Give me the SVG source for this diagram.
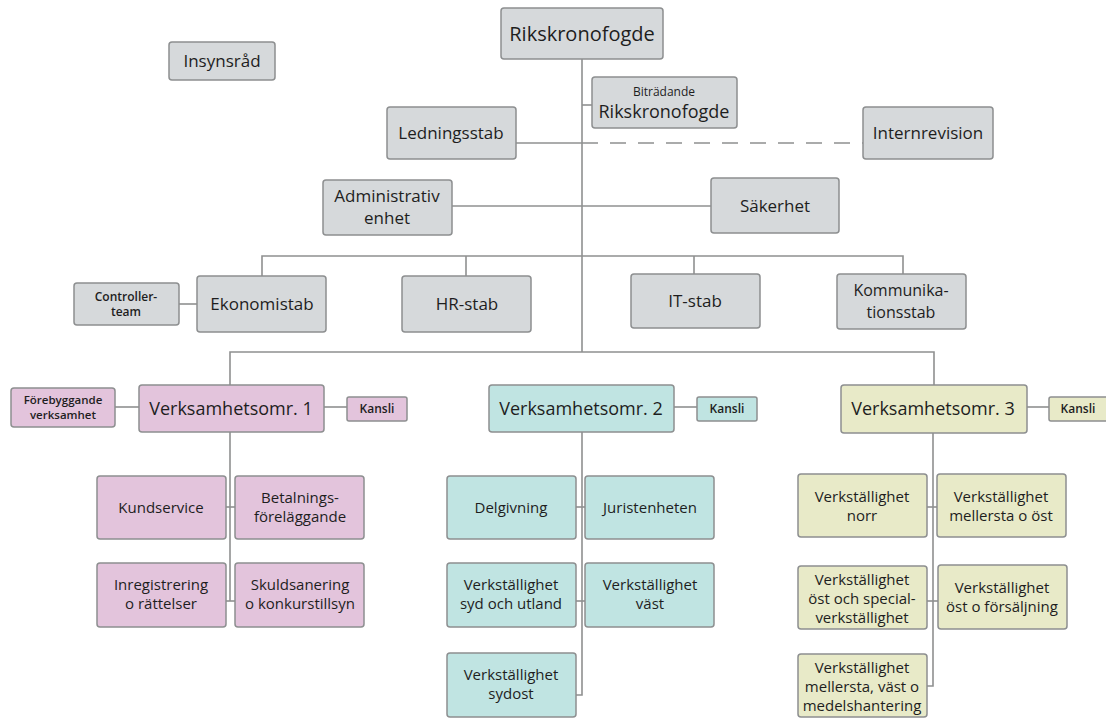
<svg xmlns="http://www.w3.org/2000/svg" width="1106" height="718" viewBox="0 0 1106 718">
<style>
rect{stroke:#8d8f90;stroke-width:1.5}
.g{fill:#d6d9db}.p{fill:#e3c4dc}.t{fill:#c0e4e2}.y{fill:#e8eac8}
text{font-family:"Open Sans","Noto Sans",sans-serif;fill:#1e1e1e;text-anchor:middle}
.l{font-size:17px}.m{font-size:17px}.s{font-size:12px;font-weight:600}.b{font-size:15px}.xl{font-size:18px}
.c line,.c path{stroke:#8f9090;stroke-width:1.6;fill:none}
</style>
<g class="c" id="connectors">
<line x1="582" y1="59" x2="582" y2="352"/>
<line x1="582" y1="105" x2="592" y2="105"/>
<line x1="516" y1="143" x2="582" y2="143"/>
<line x1="582" y1="143" x2="863" y2="143" stroke-dasharray="16 12"/>
<line x1="452" y1="206" x2="711" y2="206"/>
<path d="M262 276V256H903V274"/>
<line x1="466" y1="256" x2="466" y2="276"/>
<line x1="694" y1="256" x2="694" y2="274"/>
<line x1="179" y1="304" x2="197" y2="304"/>
<path d="M230 385V352H934V385"/>
<line x1="115" y1="407" x2="139" y2="407"/>
<line x1="324" y1="407" x2="347" y2="407"/>
<line x1="674" y1="407" x2="697" y2="407"/>
<line x1="1027" y1="407" x2="1049" y2="407"/>
<line x1="230" y1="432" x2="230" y2="601"/>
<line x1="226" y1="507" x2="235" y2="507"/>
<line x1="226" y1="601" x2="235" y2="601"/>
<path d="M582 432V695H576"/>
<line x1="576" y1="507" x2="585" y2="507"/>
<line x1="576" y1="601" x2="585" y2="601"/>
<path d="M933 433V686H927"/>
<line x1="927" y1="507" x2="937" y2="507"/>
<line x1="927" y1="601" x2="938" y2="601"/>
</g>
<g id="rikskronofogde"><rect class="g" x="501" y="8" width="162" height="51" rx="3"/><text x="582" y="41" font-size="20" font-weight="500">Rikskronofogde</text></g>
<g id="insynsrad"><rect class="g" x="169" y="42" width="106" height="38" rx="3"/><text class="m" x="222" y="67">Insynsråd</text></g>
<g id="bitradande"><rect class="g" x="592" y="77" width="145" height="51" rx="3"/><text x="664" y="96" font-size="12">Biträdande</text><text x="664" y="118" font-size="18">Rikskronofogde</text></g>
<g id="ledningsstab"><rect class="g" x="387" y="107" width="129" height="52" rx="3"/><text class="m" x="451" y="139">Ledningsstab</text></g>
<g id="internrevision"><rect class="g" x="863" y="107" width="130" height="52" rx="3"/><text class="m" x="928" y="139">Internrevision</text></g>
<g id="administrativ"><rect class="g" x="323" y="180" width="129" height="55" rx="3"/><text x="387" y="202" font-size="17">Administrativ</text><text x="387" y="224" font-size="17">enhet</text></g>
<g id="sakerhet"><rect class="g" x="711" y="178" width="128" height="55" rx="3"/><text class="m" x="775" y="212">Säkerhet</text></g>
<g id="controller"><rect class="g" x="74" y="283" width="105" height="42" rx="3"/><text class="s" x="126" y="301">Controller-</text><text class="s" x="126" y="316">team</text></g>
<g id="ekonomistab"><rect class="g" x="197" y="276" width="129" height="56" rx="3"/><text class="l" x="262" y="310">Ekonomistab</text></g>
<g id="hrstab"><rect class="g" x="402" y="276" width="129" height="56" rx="3"/><text class="l" x="467" y="310">HR-stab</text></g>
<g id="itstab"><rect class="g" x="631" y="274" width="129" height="54" rx="3"/><text class="l" x="695" y="307">IT-stab</text></g>
<g id="kommunikation"><rect class="g" x="837" y="274" width="129" height="55" rx="3"/><text x="901" y="296" font-size="16">Kommunika-</text><text x="901" y="318" font-size="16">tionsstab</text></g>
<g id="forebyggande"><rect class="p" x="11" y="388" width="104" height="39" rx="3"/><text x="63" y="404" font-size="11.5" font-weight="600">Förebyggande</text><text x="63" y="419" font-size="11.5" font-weight="600">verksamhet</text></g>
<g id="vo1"><rect class="p" x="139" y="385" width="185" height="47" rx="3"/><text class="xl" x="231" y="415">Verksamhetsomr. 1</text></g>
<g id="kansli1"><rect class="p" x="347" y="397" width="60" height="24" rx="2"/><text class="s" x="377" y="413">Kansli</text></g>
<g id="kundservice"><rect class="p" x="97" y="476" width="129" height="63" rx="3"/><text class="b" x="161" y="513">Kundservice</text></g>
<g id="betalnings"><rect class="p" x="235" y="476" width="129" height="63" rx="3"/><text class="b" x="300" y="503">Betalnings-</text><text class="b" x="300" y="522">föreläggande</text></g>
<g id="inregistrering"><rect class="p" x="97" y="563" width="129" height="64" rx="3"/><text class="b" x="161" y="590">Inregistrering</text><text class="b" x="161" y="609">o rättelser</text></g>
<g id="skuldsanering"><rect class="p" x="235" y="563" width="129" height="64" rx="3"/><text class="b" x="300" y="590">Skuldsanering</text><text class="b" x="300" y="609">o konkurstillsyn</text></g>
<g id="vo2"><rect class="t" x="489" y="385" width="185" height="47" rx="3"/><text class="xl" x="581" y="415">Verksamhetsomr. 2</text></g>
<g id="kansli2"><rect class="t" x="697" y="397" width="60" height="24" rx="2"/><text class="s" x="727" y="413">Kansli</text></g>
<g id="delgivning"><rect class="t" x="447" y="476" width="129" height="63" rx="3"/><text class="b" x="511" y="513">Delgivning</text></g>
<g id="juristenheten"><rect class="t" x="585" y="476" width="129" height="63" rx="3"/><text class="b" x="650" y="513">Juristenheten</text></g>
<g id="syd"><rect class="t" x="447" y="563" width="129" height="64" rx="3"/><text class="b" x="511" y="590">Verkställighet</text><text class="b" x="511" y="609">syd och utland</text></g>
<g id="vast"><rect class="t" x="585" y="563" width="129" height="64" rx="3"/><text class="b" x="650" y="590">Verkställighet</text><text class="b" x="650" y="609">väst</text></g>
<g id="sydost"><rect class="t" x="447" y="653" width="129" height="64" rx="3"/><text class="b" x="511" y="680">Verkställighet</text><text class="b" x="511" y="699">sydost</text></g>
<g id="vo3"><rect class="y" x="841" y="385" width="186" height="48" rx="3"/><text class="xl" x="933" y="415">Verksamhetsomr. 3</text></g>
<g id="kansli3"><rect class="y" x="1049" y="397" width="62" height="24" rx="2"/><text class="s" x="1078" y="413">Kansli</text></g>
<g id="norr"><rect class="y" x="798" y="474" width="129" height="63" rx="3"/><text class="b" x="862" y="502">Verkställighet</text><text class="b" x="862" y="521">norr</text></g>
<g id="mellerstaost"><rect class="y" x="937" y="474" width="129" height="63" rx="3"/><text class="b" x="1001" y="502">Verkställighet</text><text class="b" x="1001" y="521">mellersta o öst</text></g>
<g id="ostspecial"><rect class="y" x="798" y="566" width="129" height="63" rx="3"/><text class="b" x="862" y="585">Verkställighet</text><text class="b" x="862" y="604">öst och special-</text><text class="b" x="862" y="623">verkställighet</text></g>
<g id="ostforsaljning"><rect class="y" x="938" y="565" width="129" height="64" rx="3"/><text class="b" x="1002" y="593">Verkställighet</text><text class="b" x="1002" y="612">öst o försäljning</text></g>
<g id="mellerstavast"><rect class="y" x="798" y="654" width="129" height="63" rx="3"/><text class="b" x="862" y="673">Verkställighet</text><text class="b" x="862" y="692">mellersta, väst o</text><text class="b" x="862" y="711">medelshantering</text></g>
</svg>
